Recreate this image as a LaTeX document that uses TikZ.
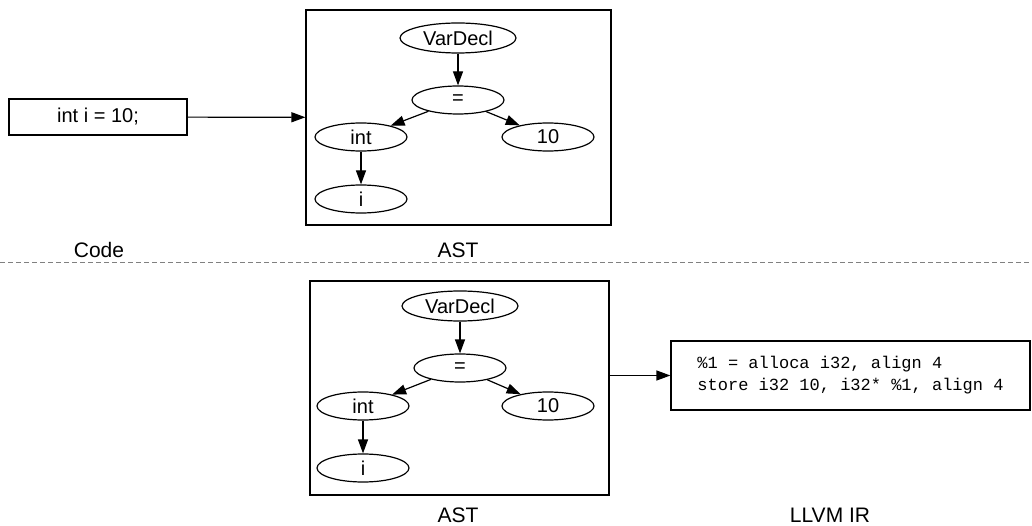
\documentclass[tikz,border=0pt]{standalone}
\usepackage{fontspec}
\setmainfont{Liberation Sans}
\setmonofont{Liberation Mono}
\usepackage{tikz}
\usetikzlibrary{arrows.meta,shapes.geometric}

\tikzset{
  astnode/.style={draw, ellipse, line width=1.2pt, inner sep=0pt,
    minimum width=92pt, minimum height=28pt, font=\fontsize{20}{22}\selectfont},
  rootnode/.style={astnode, minimum width=116pt, minimum height=30pt},
  framebox/.style={draw, line width=1.2pt, inner sep=0pt},
  edge/.style={line width=1.2pt, -{Triangle[length=14pt,width=10pt]}},
  caption/.style={font=\fontsize{21}{24}\selectfont}
}

\begin{document}
\begin{tikzpicture}[x=1pt,y=-1pt]
                \useasboundingbox (0,0) rectangle (1032,526);
                % code
                \node[framebox, minimum width=178pt, minimum height=36pt, font=\fontsize{20}{22}\selectfont] (code) at (98,117) {int i = 10;};
                % ast (top)
                \node[framebox, minimum width=305pt, minimum height=215pt] (asttop) at (458.5,117.5) {};
                \node[rootnode] (declA) at (458,38) {VarDecl};
                \node[astnode] (assignA) at (458,100) {=};
                \node[astnode] (typeA) at (361,137) {int};
                \node[astnode] (valA) at (548,137) {10};
                \node[astnode] (nameA) at (361,199) {i};
                \draw[edge] (declA) -- (assignA);
                \draw[edge] (assignA) -- (typeA);
                \draw[edge] (assignA) -- (valA);
                \draw[edge] (typeA) -- (nameA);
                \draw[edge] (code) -- (asttop);
                \node[caption] (codelbl) at (99,250) {Code};
                \node[caption] (astlblA) at (458,250) {AST};

                \draw[gray, line width=0.8pt, dash pattern=on 5pt off 3pt] (0,262) -- (1032,262);

                % ast (bottom)
                \node[framebox, minimum width=299pt, minimum height=214pt] (astbot) at (459.5,388) {};
                \node[rootnode] (declB) at (460,306) {VarDecl};
                \node[astnode] (assignB) at (460,368) {=};
                \node[astnode] (typeB) at (363,406) {int};
                \node[astnode] (valB) at (548,406) {10};
                \node[astnode] (nameB) at (363,468) {i};
                \draw[edge] (declB) -- (assignB);
                \draw[edge] (assignB) -- (typeB);
                \draw[edge] (assignB) -- (valB);
                \draw[edge] (typeB) -- (nameB);
                % llvm ir
                \node[framebox, minimum width=359pt, minimum height=69pt, align=left,
                      font=\fontsize{17}{22}\ttfamily] (llvm) at (850.5,375.5)
                      {\%1 = alloca i32, align 4\\store i32 10, i32* \%1, align 4};
                \draw[edge] (astbot.east |- llvm.west) -- (llvm.west);
                \node[caption] (astlblB) at (458,515) {AST};
                \node[caption] (irlbl) at (830,515) {LLVM IR};
\end{tikzpicture}
\end{document}
